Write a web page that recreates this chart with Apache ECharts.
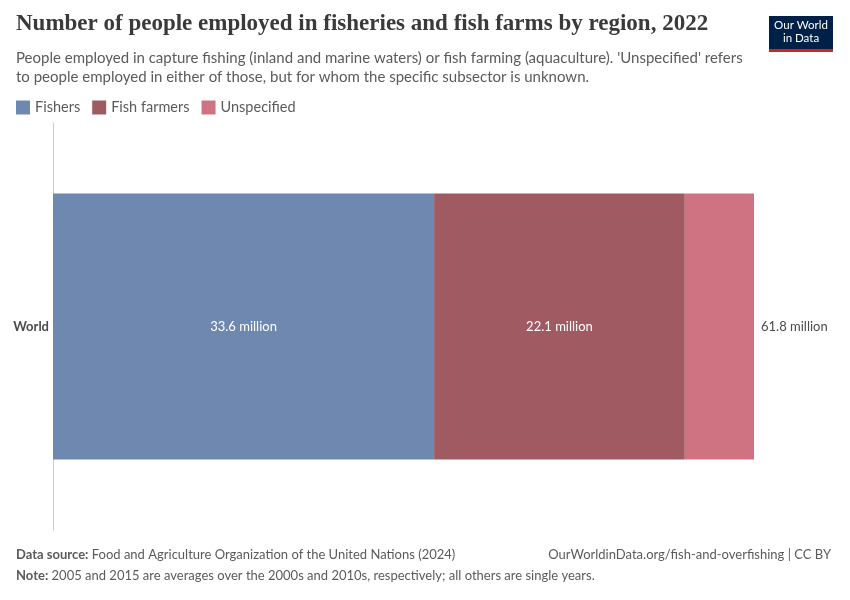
<!DOCTYPE html>
<html>
<head>
<meta charset="utf-8">
<script src="https://cdn.jsdelivr.net/npm/echarts@6/dist/echarts.min.js"></script>
<style>
  html, body { margin: 0; padding: 0; background: #fff; }
  #main { width: 850px; height: 600px; }
</style>
</head>
<body>
<div id="main"></div>
<script>
const categories = ['World'];
const fishers = [33.6];
const fishFarmers = [22.1];
const unspecified = [6.1];
const totals = [61.8];

const chart = echarts.init(document.getElementById('main'));
const font = 'Lato, "Noto Sans", sans-serif';

const option = {
    backgroundColor: '#fff',
    animation: false,
    textStyle: { fontFamily: font },
    title: {
        text: 'Number of people employed in fisheries and fish farms by region, 2022',
        left: 16,
        top: 13,
        padding: 0,
        textStyle: {
            fontFamily: '"Liberation Serif", "DejaVu Serif", serif',
            fontSize: 23,
            fontWeight: 'bold',
            color: '#3a3a3a'
        },
        subtext: "People employed in capture fishing (inland and marine waters) or fish farming (aquaculture). 'Unspecified' refers\nto people employed in either of those, but for whom the specific subsector is unknown.",
        subtextStyle: {
            fontFamily: font,
            fontSize: 15,
            color: '#5b5b5b',
            lineHeight: 19
        },
        itemGap: 13
    },
    legend: {
        left: 16,
        top: 100,
        padding: 0,
        icon: 'rect',
        itemWidth: 14,
        itemHeight: 14,
        itemGap: 12,
        textStyle: { fontFamily: font, fontSize: 14.5, color: '#5b5b5b' },
        data: ['Fishers', 'Fish farmers', 'Unspecified']
    },
    grid: { left: 53, right: 96, top: 123, bottom: 70 },
    xAxis: {
        type: 'value',
        min: 0,
        max: 61.8,
        show: false
    },
    yAxis: {
        type: 'category',
        data: categories,
        axisLine: { show: true, lineStyle: { color: '#cccccc' } },
        axisTick: { show: false },
        axisLabel: { color: '#4a4a4a', fontSize: 13, fontWeight: 'bold', margin: 4, fontFamily: font }
    },
    series: [
        {
            name: 'Fishers',
            type: 'bar',
            stack: 'total',
            barWidth: 266,
            data: fishers,
            itemStyle: { color: '#6f88b0' },
            label: {
                show: true, position: 'inside', color: '#fff', fontSize: 13,
                formatter: p => p.value + ' million'
            }
        },
        {
            name: 'Fish farmers',
            type: 'bar',
            stack: 'total',
            data: fishFarmers,
            itemStyle: { color: '#a05a61' },
            label: {
                show: true, position: 'inside', color: '#fff', fontSize: 13,
                formatter: p => p.value + ' million'
            }
        },
        {
            name: 'Unspecified',
            type: 'bar',
            stack: 'total',
            data: unspecified,
            itemStyle: { color: '#cf7382' },
            label: {
                show: true, position: 'right', distance: 7, color: '#4a4a4a', fontSize: 13,
                formatter: p => totals[p.dataIndex] + ' million'
            }
        }
    ],
    graphic: [
        {
            type: 'rect', x: 769, y: 16,
            shape: { width: 64, height: 36 },
            style: { fill: '#002147' }
        },
        {
            type: 'rect', x: 769, y: 49,
            shape: { width: 64, height: 3 },
            style: { fill: '#ce261e' }
        },
        {
            type: 'text', x: 801, y: 19,
            style: {
                text: 'Our World\nin Data', fill: '#fff', fontSize: 11.5, lineHeight: 13,
                fontFamily: font, textAlign: 'center', textVerticalAlign: 'top'
            }
        },
        {
            type: 'text', left: 16, top: 548,
            style: {
                rich: {
                    b: { fontWeight: 'bold', fontSize: 13, fill: '#5b5b5b', fontFamily: font },
                    n: { fontSize: 13, fill: '#5b5b5b', fontFamily: font }
                },
                text: '{b|Data source:} {n|Food and Agriculture Organization of the United Nations (2024)}'
            }
        },
        {
            type: 'text', right: 19, top: 548,
            style: {
                text: 'OurWorldinData.org/fish-and-overfishing | CC BY',
                fontSize: 13, fill: '#5b5b5b', fontFamily: font
            }
        },
        {
            type: 'text', left: 16, top: 569,
            style: {
                rich: {
                    b: { fontWeight: 'bold', fontSize: 13, fill: '#5b5b5b', fontFamily: font },
                    n: { fontSize: 13, fill: '#5b5b5b', fontFamily: font }
                },
                text: '{b|Note:} {n|2005 and 2015 are averages over the 2000s and 2010s, respectively; all others are single years.}'
            }
        }
    ]
};

chart.setOption(option);
</script>
</body>
</html>
